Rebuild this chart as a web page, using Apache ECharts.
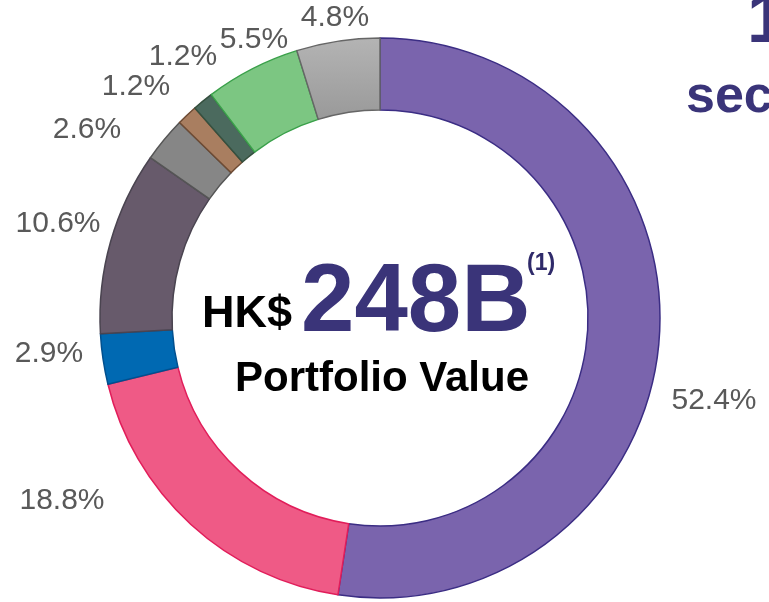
<!DOCTYPE html>
<html lang="en">
<head>
  <meta charset="UTF-8">
  <title>Portfolio Value Donut</title>
  <script src="https://cdn.jsdelivr.net/npm/echarts@6/dist/echarts.min.js"></script>
  <style>
    html, body, #main {
      margin: 0;
      padding: 0;
      width: 769px;
      height: 602px;
      background: #fff;
    }
  </style>
</head>
<body>
  <div id="main"></div>

  <script>
    // slices, clockwise from 12 o'clock
    const shares = [52.4, 18.8, 2.9, 10.6, 2.6, 1.2, 1.2, 5.5, 4.8];
    const fills = ['#7a64ad', '#ef5a86', '#0069b2', '#675a6b', '#868686', '#a97e60', '#4b6a5e', '#7cc682', null];
    const edges = ['#3b2d84', '#e11d5a', '#00508f', '#4a4450', '#555555', '#6d4a33', '#35503f', '#3aa04a', '#666666'];

    // hand placed label centres (the source places them freely)
    const labelSpots = [
      [714, 401], [62, 501], [49, 354], [58, 224], [87, 130],
      [136, 87], [183, 57], [254, 40], [335, 18]
    ];

    const greyFill = new echarts.graphic.LinearGradient(0, 0, 0, 1, [
      { offset: 0, color: '#b4b4b4' },
      { offset: 1, color: '#999999' }
    ]);

    const pieData = shares.map((v, i) => ({
      value: v,
      itemStyle: {
        color: fills[i] || greyFill,
        borderColor: edges[i],
        borderWidth: 1.5
      }
    }));

    const chart = echarts.init(document.getElementById('main'));
    chart.setOption({
      animation: false,
      series: [{
        type: 'pie',
        center: [380, 318],
        radius: [208, 280],
        startAngle: 90,
        clockwise: true,
        data: pieData,
        label: {
          show: true,
          position: 'outside',
          formatter: '{c}%',
          color: '#595959',
          fontSize: 30,
          fontFamily: 'Liberation Sans, Arial',
          overflow: 'none'
        },
        labelLine: { show: false },
        labelLayout: function (p) {
          const s = labelSpots[p.dataIndex];
          return { x: s[0], y: s[1], align: 'center', verticalAlign: 'middle', width: 120 };
        }
      }],
      graphic: [
        {
          type: 'text', left: 202, top: 292,
          style: { text: 'HK$', fill: '#000', font: 'bold 45px Liberation Sans, Arial' }
        },
        {
          type: 'text', left: 301, top: 257,
          style: { text: '248B', fill: '#3a3479', font: 'bold 96px Liberation Sans, Arial' }
        },
        {
          type: 'text', left: 527, top: 252,
          style: { text: '(1)', fill: '#2f2a6a', font: 'bold 23px Liberation Sans, Arial' }
        },
        {
          type: 'text', left: 235, top: 358,
          style: { text: 'Portfolio Value', fill: '#000', font: 'bold 42px Liberation Sans, Arial' }
        },
        {
          type: 'text', left: 747, top: -12,
          style: { text: '1', fill: '#3a3479', font: 'bold 70px Liberation Sans, Arial' }
        },
        {
          type: 'text', left: 686, top: 72,
          style: { text: 'sec', fill: '#3a3479', font: 'bold 52px Liberation Sans, Arial' }
        }
      ]
    });
  </script>
</body>
</html>
